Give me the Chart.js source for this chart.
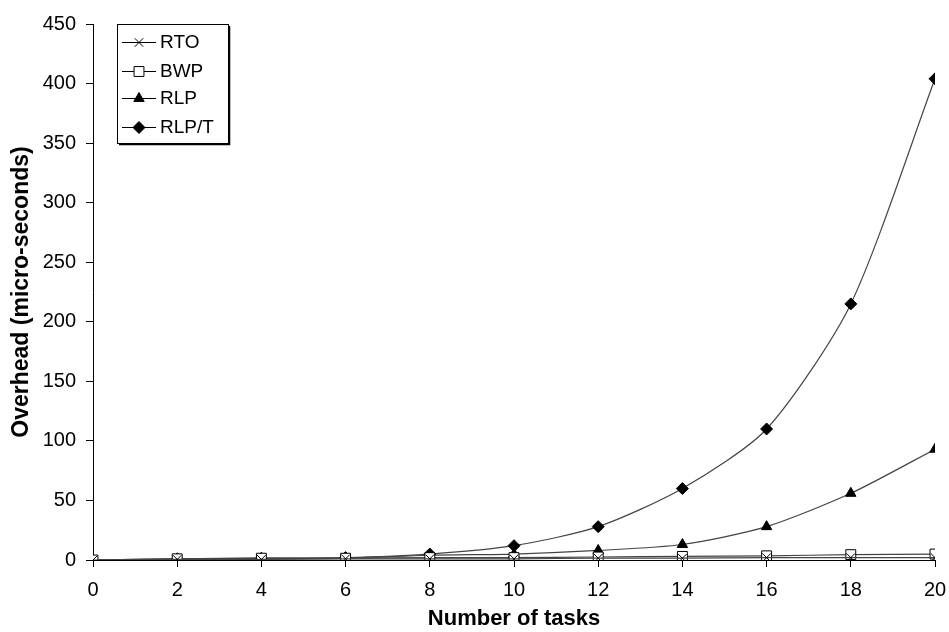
<!DOCTYPE html>
<html>
<head>
<meta charset="utf-8">
<script src="https://cdn.jsdelivr.net/npm/chart.js@4.4.1/dist/chart.umd.min.js"></script>
<style>
  html, body { margin: 0; padding: 0; background: #fff; }
  #wrap { width: 949px; height: 632px; }
</style>
</head>
<body>
<div id="wrap"><canvas id="chart" width="949" height="632"></canvas></div>
<script>
const TASKS = [0, 2, 4, 6, 8, 10, 12, 14, 16, 18, 20];
const RTO = [0, 0.5, 0.5, 1, 1, 1, 1.5, 1.5, 2, 2, 2];
const BWP = [0, 1, 1.5, 1.5, 2, 2, 2.5, 3, 3.5, 4.5, 5];
const RLP = [0, 0.5, 1, 1.5, 4, 5, 8, 13, 28, 56, 93];
const RLPT = [0, 1, 1.5, 2, 5, 12, 28, 60, 110, 215, 404];

const FONT = "'Liberation Sans', Arial, sans-serif";
const LINE = '#444';
const INK = '#000';

function series(label, values, style, radius, fill) {
  return {
    label,
    data: TASKS.map((t, i) => ({ x: t, y: values[i] })),
    borderColor: LINE,
    borderWidth: 1.2,
    tension: 0.25,
    pointStyle: style,
    pointRadius: radius,
    pointBorderColor: INK,
    pointBackgroundColor: fill,
    pointBorderWidth: 1,
  };
}

// legend box drawn inside the plot, top-left
const boxLegend = {
  id: 'boxLegend',
  afterDraw(chart) {
    const ctx = chart.ctx;
    const x0 = 117, y0 = 24, w = 111, h = 119;
    ctx.save();
    ctx.fillStyle = '#fff';
    ctx.fillRect(x0, y0, w, h);
    ctx.strokeStyle = '#000';
    ctx.lineWidth = 1;
    ctx.strokeRect(x0 + 0.5, y0 + 0.5, w, h);
    ctx.lineWidth = 1.5;
    ctx.beginPath();
    ctx.moveTo(x0 + 2, y0 + h + 1.5);
    ctx.lineTo(x0 + w + 1.5, y0 + h + 1.5);
    ctx.lineTo(x0 + w + 1.5, y0 + 2);
    ctx.stroke();
    const rows = [42, 71, 98, 127];
    chart.data.datasets.forEach((ds, i) => {
      const y = rows[i];
      ctx.strokeStyle = '#000';
      ctx.lineWidth = 1;
      ctx.beginPath();
      ctx.moveTo(122, y + 0.5);
      ctx.lineTo(156, y + 0.5);
      ctx.stroke();
      ctx.fillStyle = ds.pointBackgroundColor;
      ctx.strokeStyle = ds.pointBorderColor;
      Chart.helpers.drawPoint(ctx, {
        pointStyle: ds.pointStyle, radius: ds.pointRadius, rotation: 0, borderWidth: 1,
      }, 139, y + 0.5);
      ctx.fillStyle = '#000';
      ctx.font = '19px ' + FONT;
      ctx.textBaseline = 'middle';
      ctx.fillText(ds.label, 160, y + 1);
    });
    ctx.restore();
  },
};

new Chart(document.getElementById('chart'), {
  type: 'line',
  data: {
    datasets: [
      series('RTO', RTO, 'crossRot', 6, '#fff'),
      series('BWP', BWP, 'rect', 7, '#fff'),
      series('RLP', RLP, 'triangle', 6, '#000'),
      series('RLP/T', RLPT, 'rectRot', 6, '#000'),
    ],
  },
  options: {
    responsive: false,
    animation: false,
    layout: { padding: { top: 24, right: 14, left: 8, bottom: 0 } },
    plugins: { legend: { display: false }, tooltip: { enabled: false } },
    scales: {
      x: {
        type: 'linear',
        min: 0,
        max: 20,
        afterFit(s) { s.height = 72; s.paddingRight = 0; s.paddingLeft = 0; },
        ticks: { stepSize: 2, color: INK, font: { family: FONT, size: 20 }, padding: 11 },
        grid: { drawOnChartArea: false, drawTicks: true, tickLength: 7, color: INK },
        border: { display: true, color: INK, width: 1 },
        title: { display: true, text: 'Number of tasks', color: INK, font: { family: FONT, size: 22, weight: 'bold' }, padding: 0 },
      },
      y: {
        min: 0,
        max: 450,
        afterFit(s) { s.width = 85; },
        ticks: { stepSize: 50, color: INK, font: { family: FONT, size: 20 }, padding: 10 },
        grid: { drawOnChartArea: false, drawTicks: true, tickLength: 7, color: INK },
        border: { display: true, color: INK, width: 1 },
        title: { display: true, text: 'Overhead (micro-seconds)', color: INK, font: { family: FONT, size: 23, weight: 'bold' }, padding: 0 },
      },
    },
  },
  plugins: [boxLegend],
});
</script>
</body>
</html>
